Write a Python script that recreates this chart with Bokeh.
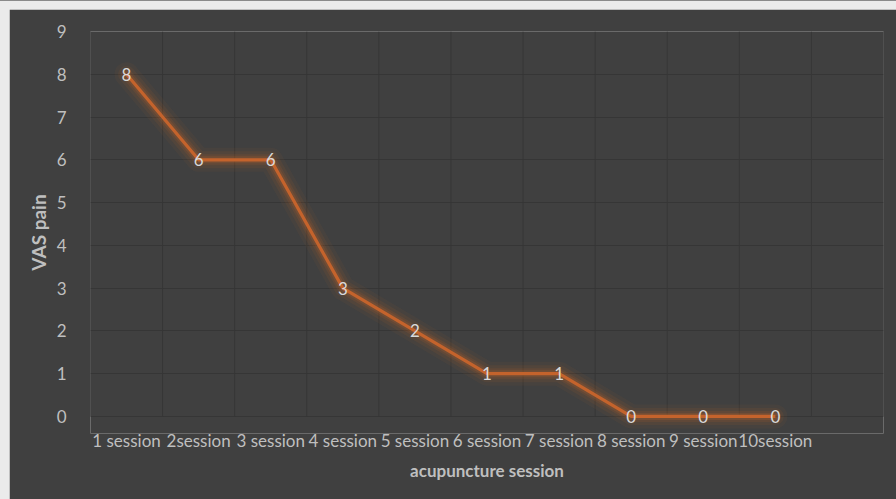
from bokeh.plotting import figure
from bokeh.models import Range1d, FixedTicker, ColumnDataSource, LabelSet
from bokeh.embed import file_html
from bokeh.resources import INLINE
from bokeh.core.properties import value

categories = ["1 session", "2session", "3 session", "4 session", "5 session",
              "6 session", "7 session", "8 session", "9 session", "10session"]
vas_pain = [8, 6, 6, 3, 2, 1, 1, 0, 0, 0]
y_ticks = [0, 1, 2, 3, 4, 5, 6, 7, 8, 9]
n_slots = 11
y_min, y_max = 0, 9
y_pad = 0.4  # extra room below 0 so the "0" labels are not clipped

xs = [i + 0.5 for i in range(len(categories))]
src = ColumnDataSource(dict(x=xs, y=vas_pain, lbl=[str(v) for v in vas_pain]))

BG = "#404040"
TXT = "#bfbfbf"
FONT = "Lato"
GRID = "#363636"

p = figure(width=887, height=490, output_backend="svg", toolbar_location=None,
           x_range=Range1d(0, n_slots), y_range=Range1d(y_min - y_pad, y_max),
           min_border_left=81, min_border_right=13, min_border_top=22, min_border_bottom=66)
p.background_fill_color = BG
p.border_fill_color = BG
p.outline_line_color = None

# axes
p.xaxis.ticker = FixedTicker(ticks=xs)
p.xaxis.major_label_overrides = {x: c for x, c in zip(xs, categories)}
p.yaxis.ticker = FixedTicker(ticks=y_ticks)
for ax in (p.xaxis[0], p.yaxis[0]):
    ax.axis_line_color = None
    ax.major_tick_line_color = None
    ax.minor_tick_line_color = None
    ax.major_label_text_color = TXT
    ax.major_label_text_font = FONT
    ax.major_label_text_font_size = "17px"
    ax.axis_label_text_color = TXT
    ax.axis_label_text_font = FONT
    ax.axis_label_text_font_style = "bold"
p.xaxis.axis_label_text_font_size = "17px"
p.yaxis.axis_label_text_font_size = "19px"
p.xaxis.major_label_standoff = -10
p.yaxis.major_label_standoff = 18
p.xaxis.axis_label = "acupuncture session"
p.yaxis.axis_label = "VAS pain"
p.xaxis.axis_label_standoff = 6
p.yaxis.axis_label_standoff = 4

# grid: horizontal via ygrid, vertical cell borders drawn only over 0..9
p.xgrid.grid_line_color = None
p.ygrid.ticker = FixedTicker(ticks=y_ticks)
p.ygrid.grid_line_color = GRID
vx = list(range(n_slots + 1))
p.segment(x0=vx, y0=[y_min] * len(vx), x1=vx, y1=[y_max] * len(vx),
          line_color=GRID, line_width=1)

# glow
for w, a in [(24, 0.05), (17, 0.07), (11, 0.1), (7, 0.14)]:
    p.line("x", "y", source=src, line_color="#e07020", line_width=w, line_alpha=a,
           line_join="round", line_cap="round")
p.line("x", "y", source=src, line_color="#c4632c", line_width=3.2, line_join="round")

labels = LabelSet(x="x", y="y", text="lbl", source=src, text_align="center",
                  text_baseline="middle", text_color="#d9d9d9", text_font=value(FONT),
                  text_font_size=value("17px"))
p.add_layout(labels)

html = file_html(p, INLINE)
html = html.replace("</head>", "<style>html{border-top:1px solid #8a8a8a !important;background:#ebebeb !important}body{background:#ebebeb !important;margin:8px 0 0 9px !important}</style></head>", 1)
open("out.html", "w").write(html)
